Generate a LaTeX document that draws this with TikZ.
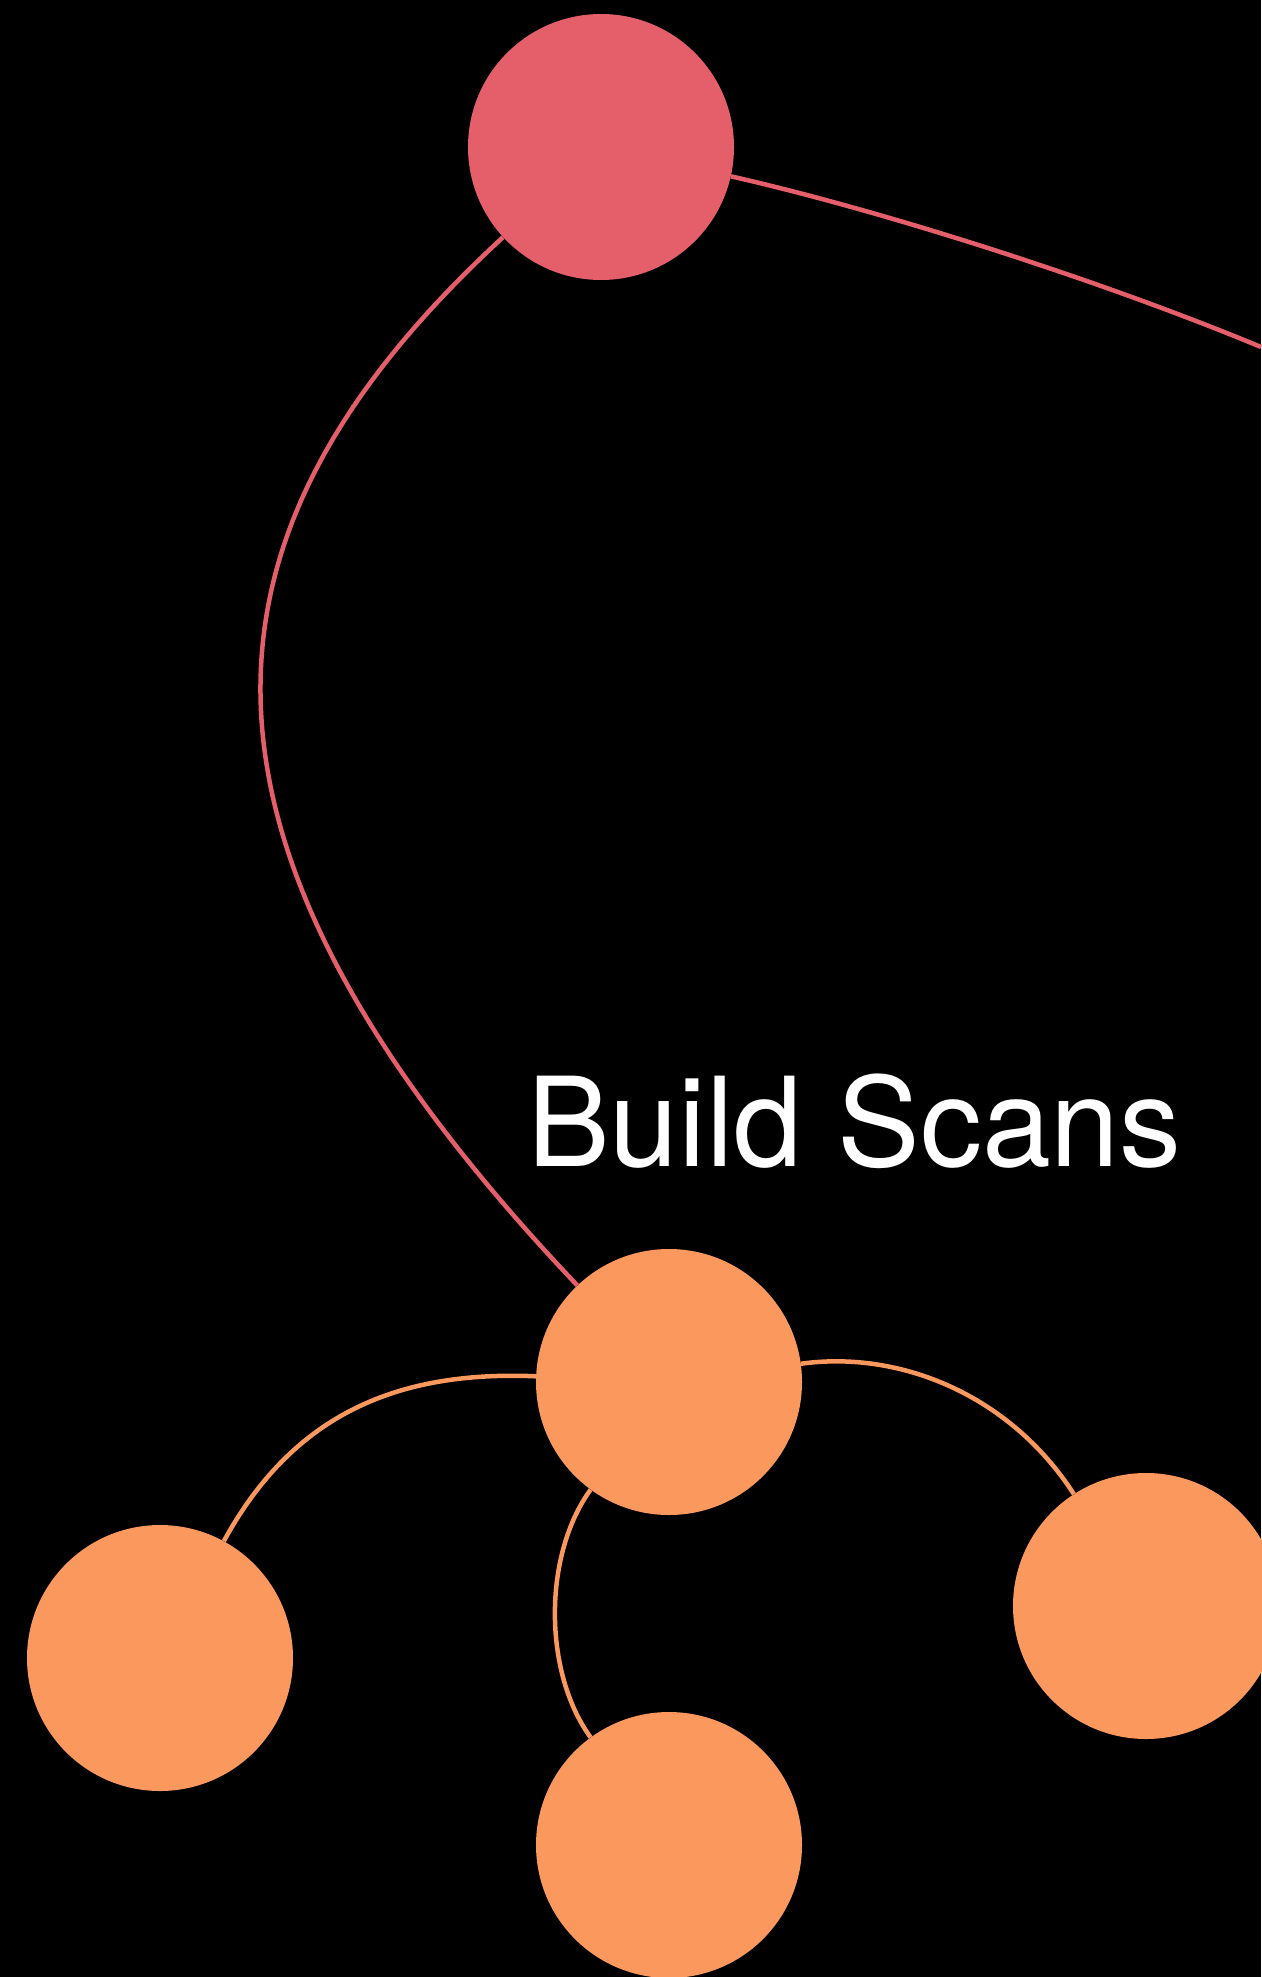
\documentclass[tikz,border=0pt]{standalone}
\usepackage{fontspec}
\setmainfont{TeX Gyre Heros}
\definecolor{nodered}{RGB}{229,95,107}
\definecolor{nodeorange}{RGB}{250,152,94}
\begin{document}
\begin{tikzpicture}[x=1pt,y=1pt,
  bubble/.style={circle, minimum size=266pt, inner sep=0pt, draw=none},
  redbubble/.style={bubble, fill=nodered},
  orangebubble/.style={bubble, fill=nodeorange},
  redlink/.style={draw=nodered, line width=4.5pt},
  orangelink/.style={draw=nodeorange, line width=4.5pt},
  label/.style={text=white, inner sep=0pt, anchor=base west, font=\fontsize{124}{140}\selectfont}]
\fill[black] (0,0) rectangle (1261,-1977);
\useasboundingbox (0,0) rectangle (1261,-1977);

\node[redbubble] (r) at (601,-147) {};
\node[orangebubble] (c) at (669,-1382) {};
\node[orangebubble] (l) at (160,-1658) {};
\node[orangebubble] (b) at (669,-1845) {};
\node[orangebubble] (rt) at (1146,-1606) {};
\coordinate (rend) at (1261,-347);

\node[label] (title) at (527,-1166) {Build Scans};

\draw[redlink] (r) .. controls (185,-530) and (150,-835) .. (c);
\draw[redlink] (r) .. controls (880,-210) and (1100,-280) .. (rend);
\draw[orangelink] (c) .. controls (390,-1370) and (290,-1420) .. (l);
\draw[orangelink] (c) .. controls (900,-1350) and (1010,-1395) .. (rt);
\draw[orangelink] (c) .. controls (543,-1555) and (543,-1672) .. (b);
\end{tikzpicture}
\end{document}
